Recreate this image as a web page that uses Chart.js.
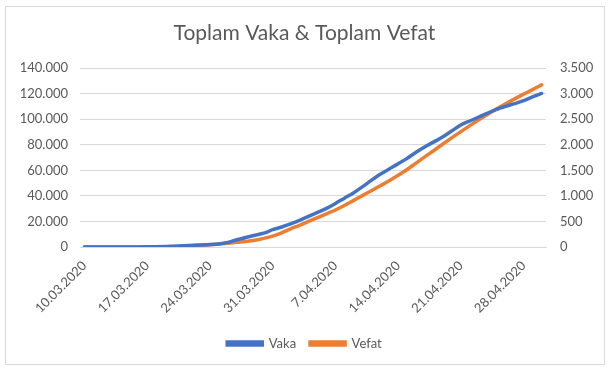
<!DOCTYPE html>
<html>
<head>
<meta charset="utf-8">
<script src="https://cdn.jsdelivr.net/npm/chart.js@4.4.0/dist/chart.umd.min.js"></script>
<style>
    html, body { margin: 0; padding: 0; background: #fff; }
    #wrap { position: relative; width: 611px; height: 374px; }
    #frame {
        position: absolute; left: 5px; top: 6px; width: 600px; height: 359px;
        border: 1px solid #d9d9d9; box-sizing: border-box;
    }
    canvas { position: absolute; left: 0; top: 0; }
</style>
</head>
<body>
<div id="wrap">
    <div id="frame"></div>
    <canvas id="chart" width="611" height="374"></canvas>
</div>
<script>
// Dates (10.03.2020 - 30.04.2020)
let dates = [
    "10.03.2020", "11.03.2020", "12.03.2020", "13.03.2020", "14.03.2020", "15.03.2020", "16.03.2020",
    "17.03.2020", "18.03.2020", "19.03.2020", "20.03.2020", "21.03.2020", "22.03.2020", "23.03.2020",
    "24.03.2020", "25.03.2020", "26.03.2020", "27.03.2020", "28.03.2020", "29.03.2020", "30.03.2020",
    "31.03.2020", "1.04.2020", "2.04.2020", "3.04.2020", "4.04.2020", "5.04.2020", "6.04.2020",
    "7.04.2020", "8.04.2020", "9.04.2020", "10.04.2020", "11.04.2020", "12.04.2020", "13.04.2020",
    "14.04.2020", "15.04.2020", "16.04.2020", "17.04.2020", "18.04.2020", "19.04.2020", "20.04.2020",
    "21.04.2020", "22.04.2020", "23.04.2020", "24.04.2020", "25.04.2020", "26.04.2020", "27.04.2020",
    "28.04.2020", "29.04.2020", "30.04.2020"
];

// Total cases (left axis)
let vaka = [
    0, 1, 1, 5, 6, 18, 47,
    98, 191, 359, 670, 947, 1236, 1529,
    1872, 2433, 3629, 5698, 7402, 9217, 10827,
    13531, 15679, 18135, 20921, 23934, 27069, 30217,
    34109, 38226, 42282, 47029, 52167, 56956, 61049,
    65111, 69392, 74193, 78546, 82329, 86306, 90980,
    95591, 98674, 101790, 104912, 107773, 110130, 112261,
    114653, 117589, 120204
];

// Total deaths (right axis)
let vefat = [
    0, 0, 0, 0, 0, 0, 0,
    1, 2, 4, 9, 21, 30, 37,
    44, 59, 75, 92, 108, 131, 168,
    214, 277, 356, 425, 501, 574, 649,
    725, 812, 908, 1006, 1101, 1198, 1296,
    1403, 1518, 1643, 1769, 1890, 2017, 2140,
    2259, 2376, 2491, 2600, 2706, 2805, 2900,
    2992, 3081, 3174
];

let leftTicks = { min: 0, max: 140000, step: 20000 };
let rightTicks = { min: 0, max: 3500, step: 500 };

const textColor = "#595959";
const gridColor = "#d9d9d9";
const font = "Lato";

// 120000 -> "120.000"
function dotted(v) {
    return String(v).replace(/\B(?=(\d{3})+(?!\d))/g, ".");
}

const ctx = document.getElementById("chart").getContext("2d");

new Chart(ctx, {
    type: "line",
    data: {
        labels: dates,
        datasets: [
            {
                label: "Vaka",
                data: vaka,
                yAxisID: "y",
                borderColor: "#4472c4",
                backgroundColor: "#4472c4",
                borderWidth: 3.5,
                pointRadius: 0,
                tension: 0.4,
                cubicInterpolationMode: "monotone",
                borderCapStyle: "round"
            },
            {
                label: "Vefat",
                data: vefat,
                yAxisID: "y1",
                borderColor: "#ed7d31",
                backgroundColor: "#ed7d31",
                borderWidth: 3.5,
                pointRadius: 0,
                tension: 0.4,
                cubicInterpolationMode: "monotone",
                borderCapStyle: "round"
            }
        ]
    },
    options: {
        responsive: false,
        animation: false,
        layout: { padding: { left: 12, right: 14, top: 0, bottom: 14 } },
        plugins: {
            title: {
                display: true,
                text: "Toplam Vaka & Toplam Vefat",
                color: textColor,
                font: { family: font, size: 21, weight: "normal" },
                padding: { top: 21, bottom: 22 }
            },
            legend: {
                position: "bottom",
                labels: {
                    color: textColor,
                    font: { family: font, size: 13 },
                    boxWidth: 35,
                    boxHeight: 3,
                    padding: 14
                }
            },
            tooltip: { enabled: false }
        },
        scales: {
            x: {
                offset: true,
                grid: { display: false },
                border: { color: gridColor },
                ticks: {
                    autoSkip: false,
                    maxRotation: 45,
                    minRotation: 45,
                    color: textColor,
                    font: { family: font, size: 13 },
                    callback: function (v, i) {
                        return i % 7 === 0 ? dates[i] : "";
                    }
                },
                afterFit: function (s) { s.height = 76; }
            },
            y: {
                position: "left",
                min: leftTicks.min,
                max: leftTicks.max,
                grid: { color: gridColor, drawTicks: false },
                border: { display: false },
                ticks: {
                    stepSize: leftTicks.step,
                    color: textColor,
                    padding: 12,
                    font: { family: font, size: 13 },
                    callback: v => dotted(v)
                },
                afterFit: function (s) { s.width = 68; }
            },
            y1: {
                position: "right",
                min: rightTicks.min,
                max: rightTicks.max,
                grid: { drawOnChartArea: false, drawTicks: false },
                border: { display: false },
                ticks: {
                    stepSize: rightTicks.step,
                    color: textColor,
                    padding: 14,
                    font: { family: font, size: 13 },
                    callback: v => dotted(v)
                },
                afterFit: function (s) { s.width = 51; }
            }
        }
    }
});
</script>
</body>
</html>
